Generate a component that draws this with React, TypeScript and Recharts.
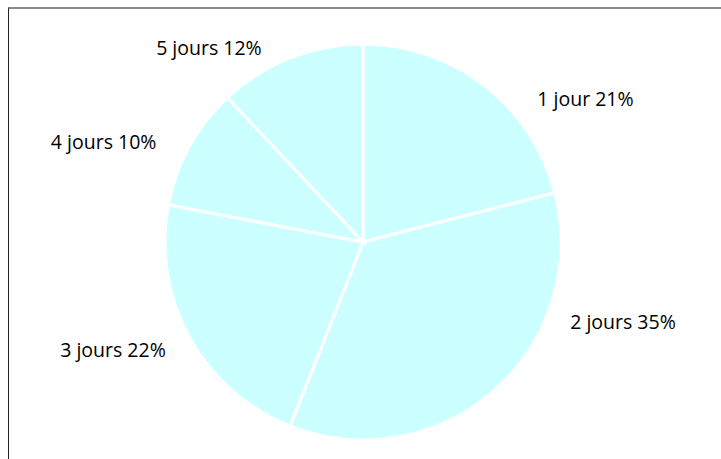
import { PieChart, Pie, Cell } from "recharts";

const categories = ["1 jour", "2 jours", "3 jours", "4 jours", "5 jours"];
const shares = [21, 35, 22, 10, 12];

const data = categories.map((name, i) => ({ name, value: shares[i] }));

// label placement around the pie (angle in degrees, distance from centre)
const labelPolar = [
  { angle: 32.9, dist: 265 },
  { angle: -17.1, dist: 272 },
  { angle: 203.2, dist: 272 },
  { angle: 158.9, dist: 278 },
  { angle: 128.4, dist: 248 },
];

const RAD = Math.PI / 180;

function renderLabel(props: any) {
  const { cx, cy, index, name, value } = props;
  const p = labelPolar[index];
  const x = cx + p.dist * Math.cos(p.angle * RAD);
  const y = cy - p.dist * Math.sin(p.angle * RAD);
  return (
    <text
      x={x}
      y={y}
      textAnchor="middle"
      dominantBaseline="central"
      fill="#000"
      fontSize={19.5}
      fontFamily="'Open Sans', sans-serif"
    >
      {`${name} ${value}%`}
    </text>
  );
}

export default function App() {
  return (
    <div
      style={{
        position: "absolute",
        left: 0,
        top: 0,
        width: 721,
        height: 459,
        overflow: "hidden",
        background: "#fff",
      }}
    >
      <div
        style={{
          position: "absolute",
          left: 8,
          top: 7,
          width: 730,
          height: 470,
          borderTop: "2px solid #8a8a8a",
          borderLeft: "1px solid #222",
        }}
      />
      <div style={{ position: "absolute", left: 0, top: 0 }}>
        <PieChart width={721} height={459} margin={{ top: 0, right: 0, bottom: 0, left: 0 }}>
          <Pie
            data={data}
            dataKey="value"
            nameKey="name"
            cx={363}
            cy={242}
            outerRadius={198}
            startAngle={90}
            endAngle={-270}
            stroke="#ffffff"
            strokeWidth={3}
            label={renderLabel}
            labelLine={false}
            isAnimationActive={false}
          >
            {data.map((_, i) => (
              <Cell key={i} fill="#ccffff" />
            ))}
          </Pie>
        </PieChart>
      </div>
    </div>
  );
}
